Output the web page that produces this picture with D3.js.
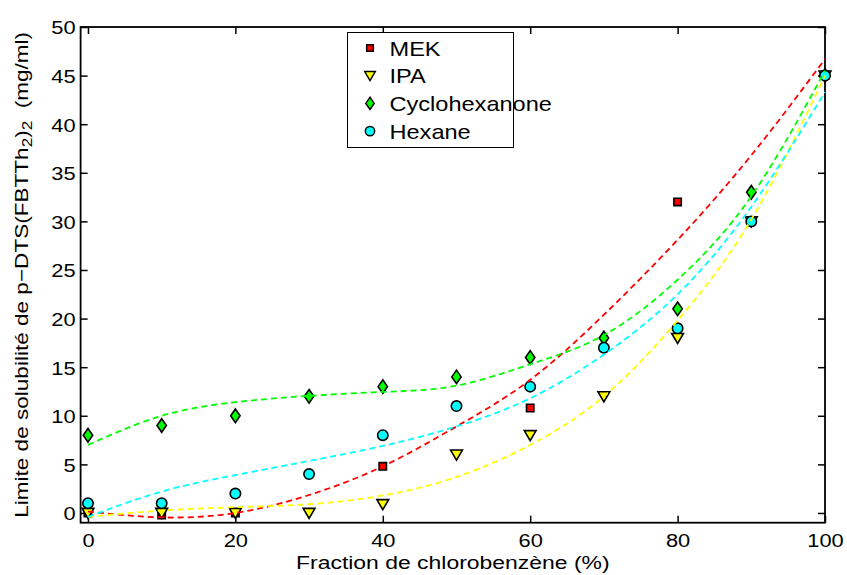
<!DOCTYPE html>
<html><head><meta charset="utf-8">
<script src="https://cdn.jsdelivr.net/npm/d3@7"></script>
<style>body{margin:0;background:#fff}svg{display:block}text{font-family:"Liberation Sans",Arial,sans-serif;fill:#000}</style>
</head><body>
<svg id="c" width="847" height="575"></svg>
<script>
// ---- data ----
const seriesNames = ["MEK", "IPA", "Cyclohexanone", "Hexane"];
const fractions = [0, 10, 20, 30, 40, 50, 60, 70, 80, 90, 100];
const mekX = [0, 10, 20, 40, 60, 80, 100];
const mekY = [0, -0.2, 0, 4.8, 10.8, 32, 45];
const ipaY = [0, 0, 0, 0, 0.9, 6, 8, 12, 18, 30, 45];
const cycloY = [8, 9, 10, 12, 13, 14, 16, 18, 21, 33, 45];
const hexaneY = [1, 1, 2, 4, 8, 11, 13, 17, 19, 30, 45];
// fitted trend curves
const fitX = [0, 10, 20, 30, 40, 50, 60, 70, 80, 90, 100];
const mekFit = [0.15, -0.45, 0.0, 1.85, 4.8, 8.9, 13.7, 20.4, 28.1, 36.8, 46.7];
const ipaFit = [-0.4, 0.25, 0.6, 0.9, 1.8, 3.7, 7.0, 12.0, 19.8, 30.2, 45.0];
const cycloFit = [7.0, 10.0, 11.4, 12.05, 12.45, 13.1, 15.3, 18.3, 24.0, 32.6, 45.5];
const hexaneFit = [-0.4, 2.2, 3.9, 5.35, 6.9, 8.9, 11.8, 16.3, 22.5, 31.5, 43.3];
const xTicks = [0, 20, 40, 60, 80, 100];
const yTicks = [0, 5, 10, 15, 20, 25, 30, 35, 40, 45, 50];

// ---- layout ----
const svg = d3.select("#c");
const L = 80.6, R = 825, T = 27, B = 522.7;
const x = d3.scaleLinear().domain([-1, 100]).range([L, R]);
const y = d3.scaleLinear().domain([-1, 50]).range([B, T]);
const colors = {MEK: "#ff0000", IPA: "#ffff00", Cyclohexanone: "#00ff00", Hexane: "#00ffff"};
const SX = 1.15;

// axes
const tk = 7;
const gB = svg.append("g").attr("transform", `translate(0,${B})`)
  .call(d3.axisBottom(x).tickValues(xTicks).tickSize(-tk).tickPadding(11).tickFormat(d3.format("d")));
const gTop = svg.append("g").attr("transform", `translate(0,${T})`)
  .call(d3.axisTop(x).tickValues(xTicks).tickSize(-tk).tickFormat(""));
const gL = svg.append("g").attr("transform", `translate(${L},0)`)
  .call(d3.axisLeft(y).tickValues(yTicks).tickSize(-tk).tickPadding(5).tickFormat(d3.format("d")));
const gR = svg.append("g").attr("transform", `translate(${R},0)`)
  .call(d3.axisRight(y).tickValues(yTicks).tickSize(-tk).tickFormat(""));
[gB, gTop, gL, gR].forEach(g => {
  g.select(".domain").remove();
  g.selectAll(".tick line").attr("stroke", "#000").attr("stroke-width", 1.5);
});
gB.selectAll("text").attr("font-size", 19).attr("font-family", "Liberation Sans").attr("transform", `scale(${SX},1)`);
gL.selectAll("text").attr("font-size", 19).attr("font-family", "Liberation Sans").attr("dy", "0.36em")
  .attr("transform", `scale(${SX},1)`).attr("x", -5 / SX);
svg.append("rect").attr("x", L).attr("y", T).attr("width", R - L).attr("height", B - T)
  .attr("fill", "none").attr("stroke", "#000").attr("stroke-width", 1.8);

// axis labels
svg.append("text").attr("transform", `translate(${(L + R) / 2},568.5) scale(1.24,1)`)
  .attr("text-anchor", "middle").attr("font-size", 18.5).text("Fraction de chlorobenzène (%)");
const yl = svg.append("text").attr("transform", `translate(28,${(T + B) / 2}) rotate(-90) scale(1.22,1)`)
  .attr("text-anchor", "middle").attr("font-size", 18.5);
yl.append("tspan").text("Limite de solubilité de p−DTS(FBTTh");
yl.append("tspan").attr("baseline-shift", "-4").attr("font-size", 14).text("2");
yl.append("tspan").text(")");
yl.append("tspan").attr("baseline-shift", "-4").attr("font-size", 14).text("2");
yl.append("tspan").text("\u00a0 (mg/ml)");

// markers
const sym = {
  MEK: "M-3.7,-3.7H3.7V3.7H-3.7Z",
  IPA: "M-5.9,-4.6L5.9,-4.6L0,5.5Z",
  Cyclohexanone: "M0,-6.8L4.7,0L0,6.8L-4.7,0Z",
  Hexane: d3.symbol(d3.symbolCircle, Math.PI * 5.2 * 5.2)()
};
function pts(xs, ys) { return xs.map((v, i) => [v, ys[i]]); }
const pointSets = [
  ["MEK", pts(mekX, mekY)],
  ["IPA", pts(fractions, ipaY)],
  ["Cyclohexanone", pts(fractions, cycloY)],
  ["Hexane", pts(fractions, hexaneY)]
];
pointSets.forEach(([name, data]) => {
  svg.append("g").selectAll("path").data(data).join("path")
    .attr("d", sym[name]).attr("transform", d => `translate(${x(d[0])},${y(d[1])})`)
    .attr("fill", colors[name]).attr("stroke", "#000").attr("stroke-width", 1.6);
});

// fit lines
const line = d3.line().x(d => x(d[0])).y(d => y(d[1])).curve(d3.curveNatural);
[["MEK", mekFit], ["IPA", ipaFit], ["Cyclohexanone", cycloFit], ["Hexane", hexaneFit]].forEach(([name, f]) => {
  svg.append("path").datum(pts(fitX, f)).attr("d", line).attr("fill", "none")
    .attr("stroke", colors[name]).attr("stroke-width", 1.8).attr("stroke-dasharray", "6,4");
});

// legend
const lg = svg.append("g");
lg.append("rect").attr("x", 347.5).attr("y", 32.5).attr("width", 166).attr("height", 115)
  .attr("fill", "#fff").attr("stroke", "#000").attr("stroke-width", 1);
seriesNames.forEach((n, i) => {
  const cy = 48 + i * 27.7;
  lg.append("path").attr("d", sym[n]).attr("transform", `translate(370,${cy}) scale(0.9)`)
    .attr("fill", colors[n]).attr("stroke", "#000").attr("stroke-width", 1.6);
  lg.append("text").attr("transform", `translate(389.5,${cy + 7.5}) scale(1.15,1)`).attr("font-size", 20.5).text(n);
});
</script>
</body></html>
